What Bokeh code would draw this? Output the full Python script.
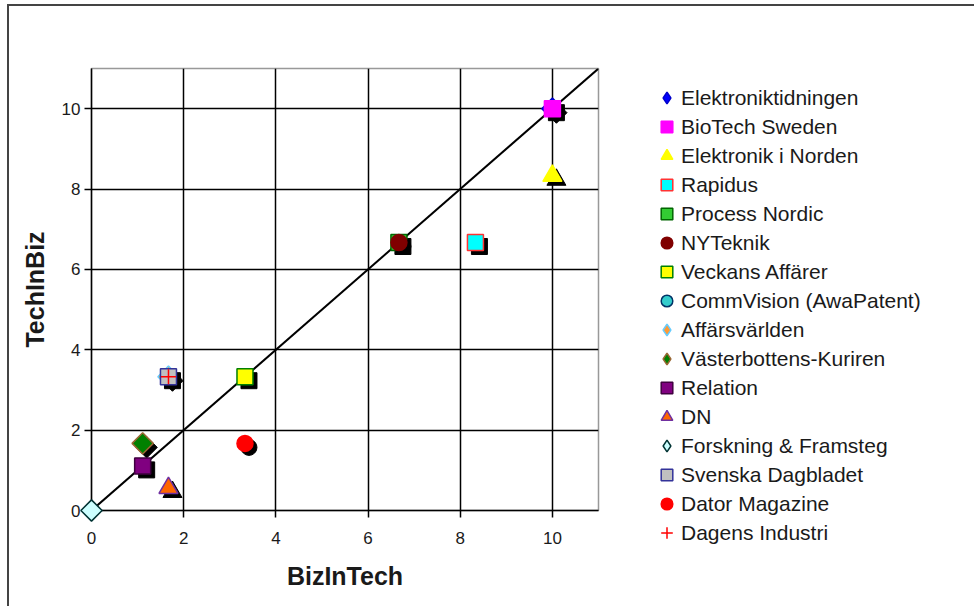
import math
from bokeh.plotting import figure
from bokeh.models import Range1d, Legend, LegendItem, FixedTicker
from bokeh.embed import file_html
from bokeh.resources import INLINE

# ---- data ----
names = [
    "Elektroniktidningen", "BioTech Sweden", "Elektronik i Norden", "Rapidus",
    "Process Nordic", "NYTeknik", "Veckans Affärer", "CommVision (AwaPatent)",
    "Affärsvärlden", "Västerbottens-Kuriren", "Relation", "DN",
    "Forskning & Framsteg", "Svenska Dagbladet", "Dator Magazine", "Dagens Industri",
]
biz_in_tech = [10, 10, 10, 8.33, 6.67, 6.67, 3.33, 1.67, 1.67, 1.11, 1.11, 1.67, 0, 1.67, 3.33, 1.67]
tech_in_biz = [10, 10, 8.33, 6.67, 6.67, 6.67, 3.33, 3.33, 3.33, 1.67, 1.11, 0.56, 0, 3.33, 1.67, 3.33]
diag_x = [0, 11]
diag_y = [0, 11]
ticks = [0, 2, 4, 6, 8, 10]

# ---- styles ----
markers = ["diamond", "square", "triangle", "square", "square", "circle", "square", "circle",
           "diamond", "diamond", "square", "triangle", "diamond", "square", "circle", "cross"]
fills = ["#0000FF", "#FF00FF", "#FFFF00", "#00FFFF", "#33CC33", "#800000", "#FFFF00", "#33CCCC",
         "#FF9933", "#008000", "#800080", "#FF6600", "#CCFFFF", "#C0C0C0", "#FF0000", "#FF0000"]
lines = ["#0000CC", "#FF00FF", "#FFFF00", "#FF3333", "#006600", "#800000", "#008000", "#003366",
         "#66CCFF", "#996633", "#400040", "#7030A0", "#003333", "#333399", "#FF0000", "#FF0000"]
shadow = [True] * 12 + [False, True, True, False]

FL, FT, FW, FH = 82, 62, 507, 442
FR, FB = 369, 96
XMAX, YMAX = 11, 11

p = figure(frame_width=FW, frame_height=FH, output_backend="svg", toolbar_location=None,
           x_range=Range1d(0, XMAX), y_range=Range1d(0, YMAX),
           min_border_left=FL, min_border_top=FT,
           min_border_right=FR, min_border_bottom=FB,
           background_fill_color="white", border_fill_color="white",
           outline_line_color="#999999", outline_line_width=1.5,
           styles={"border-left": "2px solid #444444", "border-top": "2px solid #444444",
                   "margin-left": "7px", "margin-top": "4px"})

font = "Liberation Sans"
for ax in (p.xaxis[0], p.yaxis[0]):
    ax.ticker = FixedTicker(ticks=ticks)
    ax.minor_tick_line_color = None
    ax.major_tick_in = 0
    ax.major_tick_out = 7
    ax.major_tick_line_color = "black"
    ax.major_tick_line_width = 1.5
    ax.axis_line_color = "black"
    ax.axis_line_width = 1.5
    ax.major_label_text_font = font
    ax.major_label_text_font_size = "17px"
    ax.major_label_text_color = "#1a1a1a"
    ax.axis_label_text_font = font
    ax.axis_label_text_font_size = "25px"
    ax.axis_label_text_font_style = "bold"
    ax.axis_label_text_color = "#1a1a1a"

p.xaxis.axis_label = "BizInTech"
p.yaxis.axis_label = "TechInBiz"
p.xaxis.major_label_standoff = 14
p.yaxis.major_label_standoff = 4
p.xaxis.axis_label_standoff = 15
p.yaxis.axis_label_standoff = 10

p.xgrid.ticker = FixedTicker(ticks=ticks)
p.ygrid.ticker = FixedTicker(ticks=ticks)
for g in (p.xgrid[0], p.ygrid[0]):
    g.grid_line_color = "black"
    g.grid_line_width = 1.5

p.line(diag_x, diag_y, line_color="black", line_width=2)

dx = 4.0 * XMAX / FW
dy = -4.0 * YMAX / FH

items = []
for i, nm in enumerate(names):
    m = markers[i]
    x, y = [biz_in_tech[i]], [tech_in_biz[i]]
    if m == "diamond":
        # legend-only glyph hidden beneath the rotated square drawn on the chart
        lr = p.scatter(x, y, marker="diamond", size=14, fill_color=fills[i],
                       line_color=lines[i], line_width=1.5)
        lr.level = "annotation"
        if shadow[i]:
            sr = p.scatter([x[0] + dx], [y[0] + dy], marker="square", angle=math.pi / 4, size=15,
                           fill_color="black", line_color="black")
            sr.level = "annotation"
        r = p.scatter(x, y, marker="square", angle=math.pi / 4, size=15,
                      fill_color=fills[i], line_color=lines[i], line_width=1.5)
        r.level = "annotation"
        items.append(LegendItem(label=nm, renderers=[lr]))
        continue
    size = 16
    if m == "triangle":
        size = 19
    elif m == "cross":
        size = 15
    if shadow[i]:
        sr = p.scatter([x[0] + dx], [y[0] + dy], marker=m, size=size,
                       fill_color="black", line_color="black")
        sr.level = "annotation"
    r = p.scatter(x, y, marker=m, size=size,
                  fill_color=fills[i], line_color=lines[i], line_width=1.5)
    r.level = "annotation"
    items.append(LegendItem(label=nm, renderers=[r]))

legend = Legend(items=items, location=(54, -37), padding=0, spacing=0,
                glyph_width=29, glyph_height=29, label_height=29, label_standoff=0,
                label_text_font=font, label_text_font_size="21px", label_text_color="#1a1a1a",
                border_line_color=None, background_fill_alpha=0)
p.add_layout(legend, "right")

open("out.html", "w").write(file_html(p, INLINE))
